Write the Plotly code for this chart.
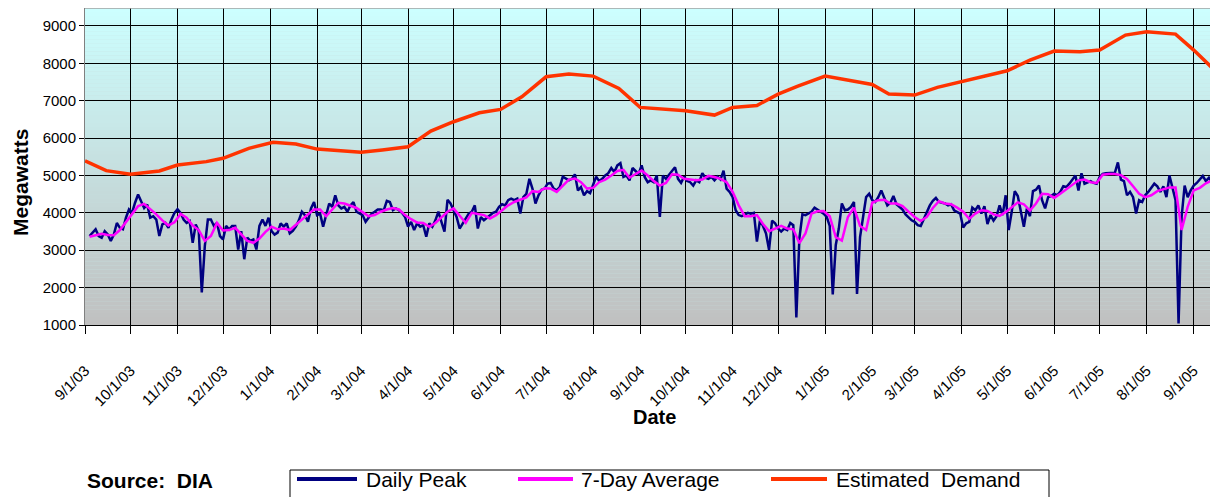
import plotly.graph_objects as go
import pandas as pd

# ---------------- data ----------------
tick_labels = ["9/1/03", "10/1/03", "11/1/03", "12/1/03", "1/1/04", "2/1/04", "3/1/04",
               "4/1/04", "5/1/04", "6/1/04", "7/1/04", "8/1/04", "9/1/04", "10/1/04",
               "11/1/04", "12/1/04", "1/1/05", "2/1/05", "3/1/05", "4/1/05", "5/1/05",
               "6/1/05", "7/1/05", "8/1/05", "9/1/05"]
y_ticks = [1000, 2000, 3000, 4000, 5000, 6000, 7000, 8000, 9000]

# Daily peak, read every 2nd day starting 2003-09-04
peak_start = "2003-09-04"
peak_sep03_jan04 = [3380, 3470, 3560, 3380, 3335, 3510, 3420, 3250, 3420, 3730,
                    3600, 3560, 3870, 4090, 4000, 4270, 4490, 4310, 4130, 4220,
                    3870, 3910, 3820, 3380, 3690, 3730, 3600, 3820, 4000, 4100,
                    4000, 3820, 3730, 3780, 3200, 3690, 3510, 1870, 3110, 3820,
                    3820, 3650, 3730, 3380, 3290, 3650, 3560, 3650, 3650, 3020,
                    3510, 2760, 3335, 3250, 3290, 3020, 3650, 3820, 3650, 3870,
                    3510, 3420, 3470]
peak_jan04_may04 = [3720, 3630, 3720, 3450, 3520, 3630, 3800, 4030, 3940, 3760,
                    4120, 4290, 3940, 3980, 3630, 3980, 4250, 4160, 4470, 4200,
                    4120, 4160, 4030, 4200, 4290, 4030, 3980, 3940, 3760, 3880,
                    3980, 4030, 4090, 4090, 4070, 4320, 4290, 4070, 4120, 4070,
                    4000, 3890, 3630, 3760, 3540, 3720, 3630, 3670, 3360, 3720,
                    3630, 3800, 4030, 3760, 3500, 4350, 4250, 4070, 3890, 3580,
                    3720, 3850, 3980]
peak_may04_sep04 = [4030, 4200, 3580, 3890, 3800, 3870, 3940, 4000, 4030, 4160,
                    4230, 4200, 4340, 4380, 4340, 4380, 3980, 4425, 4510, 4910,
                    4650, 4250, 4470, 4620, 4650, 4780, 4800, 4650, 4600, 4690,
                    4970, 4910, 4870, 4910, 5030, 4600, 4690, 4470, 4580, 4530,
                    4780, 4970, 4850, 4910, 5000, 5060, 5200, 5090, 5270, 5330,
                    4960, 5000, 4870, 5200, 5120, 5040, 5270, 4960, 4820, 4870,
                    4820, 5000]
peak_sep04_jan05 = [3890, 5000, 4910, 5000, 5120, 5220, 4910, 4800, 4970, 4850,
                    4820, 4730, 4870, 4820, 5060, 4940, 4910, 4960, 4870, 4970,
                    4890, 5130, 4650, 4560, 4420, 4070, 3940, 3910, 3960, 4000,
                    3980, 4000, 3230, 3800, 3650, 3450, 3010, 3790, 3720, 3580,
                    3500, 3580, 3540, 3730, 3670, 1200, 3320, 3960, 3940, 3980,
                    4030, 4140, 4090, 4030, 3980, 3890, 3650, 1820, 3140, 3580,
                    4250, 4070, 4090]
peak_jan05_may05 = [4160, 4290, 1830, 3350, 3890, 4420, 4510, 4340, 4290, 4420,
                    4600, 4380, 4200, 4270, 4450, 4230, 4160, 4090, 3960, 3890,
                    3800, 3760, 3670, 3650, 3850, 4030, 4200, 4320, 4400, 4290,
                    4270, 4250, 4200, 4230, 4070, 4030, 3980, 3610, 3720, 3760,
                    4140, 4070, 4200, 3980, 4180, 3700, 3940, 3790, 3910, 4200,
                    3940, 4470, 3540, 4030, 4580, 4450, 4070, 3630, 4120, 3910,
                    4580, 4620, 4730]
peak_may05_sep05 = [4340, 4120, 4420, 4450, 4510, 4470, 4560, 4710, 4690, 4780,
                    4890, 5000, 4600, 5060, 4780, 4820, 4850, 4800, 4780, 4960,
                    5040, 5060, 5060, 5060, 5070, 5350, 4890, 4850, 4470, 4560,
                    4420, 3980, 4340, 4290, 4470, 4560, 4670, 4780, 4710, 4560,
                    4710, 4420, 5000, 4650, 4340, 1040, 3890, 4730, 4420, 4600,
                    4730, 4800, 4910, 4990, 4850, 4940, 4820, 5000, 4470]

# 7-day average, read every 4th day starting 2003-09-04
avg_start = "2003-09-04"
avg_sep03_jan04 = [3360, 3400, 3440, 3410, 3400, 3540, 3750, 3980, 4180, 4240,
                   4110, 3960, 3800, 3660, 3750, 3970, 3870, 3660, 3540, 3250,
                   3380, 3730, 3530, 3540, 3600, 3420, 3250, 3200, 3310, 3490,
                   3630, 3560]
avg_jan04_may04 = [3580, 3540, 3670, 3820, 3960, 4090, 4090, 3910, 4090, 4270,
                   4250, 4200, 4130, 4020, 3910, 3940, 4030, 4090, 4130, 4090,
                   3940, 3830, 3740, 3730, 3630, 3730, 3880, 4030, 4120, 3910,
                   3730]
avg_may04_sep04 = [4000, 3980, 3940, 3850, 3940, 4070, 4200, 4290, 4350, 4410,
                   4580, 4560, 4660, 4650, 4560, 4730, 4890, 4920, 4820, 4650,
                   4670, 4820, 4890, 5000, 5120, 5150, 4940, 5040, 5130, 5000,
                   4850]
avg_sep04_jan05 = [4730, 4800, 5030, 5020, 4910, 4890, 4870, 4890, 4990, 4960,
                   4910, 4820, 4560, 4200, 3910, 3910, 3940, 3700, 3510, 3580,
                   3650, 3580, 3560, 3190, 3450, 3980, 4040, 4050, 3910, 3350,
                   3260, 3890]
avg_jan05_may05 = [4140, 3650, 3540, 4270, 4340, 4350, 4250, 4250, 4180, 4030,
                   3890, 3780, 3890, 4130, 4310, 4250, 4230, 4140, 4030, 3840,
                   3980, 4070, 4050, 3960, 3920, 4020, 4140, 4280, 4230, 4060,
                   4250]
avg_may05_sep05 = [4510, 4500, 4400, 4510, 4630, 4750, 4870, 4890, 4820, 4800,
                   5020, 5040, 5040, 5010, 4910, 4710, 4510, 4420, 4470, 4580,
                   4620, 4680, 4680, 3540, 4160, 4600, 4670, 4790, 4870, 4850]

demand_dates = ["2003-09-01", "2003-09-15", "2003-10-01", "2003-10-20", "2003-11-01",
                "2003-11-20", "2003-12-01", "2003-12-18", "2004-01-03", "2004-01-18",
                "2004-02-01", "2004-03-01", "2004-03-15", "2004-04-01", "2004-04-16",
                "2004-05-01", "2004-05-18", "2004-06-01", "2004-06-15", "2004-07-01",
                "2004-07-16", "2004-08-01", "2004-08-18", "2004-09-01", "2004-10-01",
                "2004-10-20", "2004-11-01", "2004-11-17", "2004-12-01", "2004-12-14",
                "2005-01-01", "2005-02-01", "2005-02-12", "2005-03-01", "2005-03-16",
                "2005-04-01", "2005-05-01", "2005-05-16", "2005-06-01", "2005-06-18",
                "2005-07-01", "2005-07-18", "2005-08-01", "2005-08-20", "2005-09-01",
                "2005-09-14", "2005-09-17"]
demand_values = [5390, 5130, 5030, 5120, 5280, 5370, 5460, 5725, 5890, 5840,
                 5706, 5620, 5680, 5768, 6188, 6437, 6677, 6768, 7105, 7640,
                 7712, 7658, 7330, 6821, 6731, 6615, 6821, 6874, 7177, 7391,
                 7658, 7436, 7177, 7150, 7356, 7506, 7800, 8086, 8327, 8308,
                 8354, 8755, 8843, 8781, 8354, 7846, 7773]

# ---------------- assemble ----------------
daily_peak = (peak_sep03_jan04 + peak_jan04_may04 + peak_may04_sep04 +
              peak_sep04_jan05 + peak_jan05_may05 + peak_may05_sep05)
seven_day = (avg_sep03_jan04 + avg_jan04_may04 + avg_may04_sep04 +
             avg_sep04_jan05 + avg_jan05_may05 + avg_may05_sep05)
peak_dates = pd.date_range(peak_start, periods=len(daily_peak), freq="2D")
avg_dates = pd.date_range(avg_start, periods=len(seven_day), freq="4D")
tick_dates = pd.to_datetime(tick_labels, format="%m/%d/%y")

FONT = "Liberation Sans, Arial, sans-serif"
NAVY = "#000080"
MAGENTA = "#FF00FF"
ORANGE = "#FF3300"

fig = go.Figure()
fig.add_trace(go.Scatter(x=peak_dates, y=daily_peak, mode="lines", name="Daily Peak",
                         line=dict(color=NAVY, width=2.5), showlegend=False))
fig.add_trace(go.Scatter(x=avg_dates, y=seven_day, mode="lines", name="7-Day Average",
                         line=dict(color=MAGENTA, width=2.5), showlegend=False))
fig.add_trace(go.Scatter(x=pd.to_datetime(demand_dates), y=demand_values, mode="lines",
                         name="Estimated  Demand",
                         line=dict(color=ORANGE, width=3.5), showlegend=False))

# gradient background (cyan top -> gray bottom)
shapes = []
N = 80
top = (204, 255, 255)
bot = (192, 192, 192)
for i in range(N):
    t = (i + 0.5) / N
    c = tuple(round(bot[k] + (top[k] - bot[k]) * t) for k in range(3))
    shapes.append(dict(type="rect", xref="paper", yref="paper", x0=0, x1=1,
                       y0=i / N, y1=(i + 1) / N, fillcolor="rgb(%d,%d,%d)" % c,
                       line=dict(width=0), layer="below"))
shapes.append(dict(type="line", xref="paper", yref="paper", x0=0, x1=1, y0=1, y1=1,
                   line=dict(color="#A0A0A0", width=1.5), layer="above"))

# page offset: the browser body has an 8px margin, figure is placed at (8, 8)
# plot area spans page x 85..1218, page y 8..325
W, H, L, B = 1133.0, 317.0, 85.0, 325.0
def px(xp):
    return (xp - L) / W
def py(yp):
    return (B - yp) / H

shapes.append(dict(type="rect", xref="paper", yref="paper", x0=px(290), x1=px(1049),
                   y0=py(470), y1=py(505), line=dict(color="black", width=1),
                   fillcolor="white", layer="above"))
legend_items = [("Daily Peak", NAVY, 297, 357, 364),
                ("7-Day Average", MAGENTA, 518, 573, 579),
                ("Estimated&nbsp; Demand", ORANGE, 771, 827, 834)]
annotations = []
for text, col, xa, xb, xt in legend_items:
    shapes.append(dict(type="line", xref="paper", yref="paper", x0=px(xa), x1=px(xb),
                       y0=py(479), y1=py(479), line=dict(color=col, width=4), layer="above"))
    annotations.append(dict(text=text, xref="paper", yref="paper", x=px(xt), y=py(479),
                            xanchor="left", yanchor="middle", showarrow=False,
                            font=dict(family=FONT, size=21, color="black")))

annotations += [
    dict(text="<b>Megawatts</b>", xref="paper", yref="paper", x=px(20), y=py(183),
         textangle=-90, showarrow=False, xanchor="center", yanchor="middle",
         font=dict(family=FONT, size=21, color="black")),
    dict(text="<b>Date</b>", xref="paper", yref="paper", x=px(654), y=py(417),
         showarrow=False, xanchor="center", yanchor="middle",
         font=dict(family=FONT, size=20, color="black")),
    dict(text="<b>Source:&nbsp; DIA</b>", xref="paper", yref="paper", x=px(85), y=py(480),
         showarrow=False, xanchor="left", yanchor="middle",
         font=dict(family=FONT, size=21, color="black")),
]

fig.update_layout(
    width=1210, height=489,
    margin=dict(l=77, r=0, t=0, b=172),
    paper_bgcolor="white", plot_bgcolor="#C6E0E0",
    shapes=shapes, annotations=annotations,
    showlegend=False,
    xaxis=dict(type="date", range=["2003-09-01", "2005-09-17"],
               tickmode="array", tickvals=tick_dates, ticktext=tick_labels,
               tickangle=-45, ticks="outside", ticklen=8, tickcolor="black",
               showgrid=True, gridcolor="black", gridwidth=1,
               showline=True, linecolor="black", linewidth=1,
               tickfont=dict(family=FONT, size=15, color="black"),
               ticklabelstandoff=22, zeroline=False),
    yaxis=dict(range=[1000, 9480], tickmode="array", tickvals=y_ticks,
               ticks="outside", ticklen=5, tickcolor="black",
               showgrid=True, gridcolor="black", gridwidth=1,
               showline=True, linecolor="#808080", linewidth=1,
               tickfont=dict(family=FONT, size=15, color="black"), zeroline=False),
)

fig.write_html("out.html")
